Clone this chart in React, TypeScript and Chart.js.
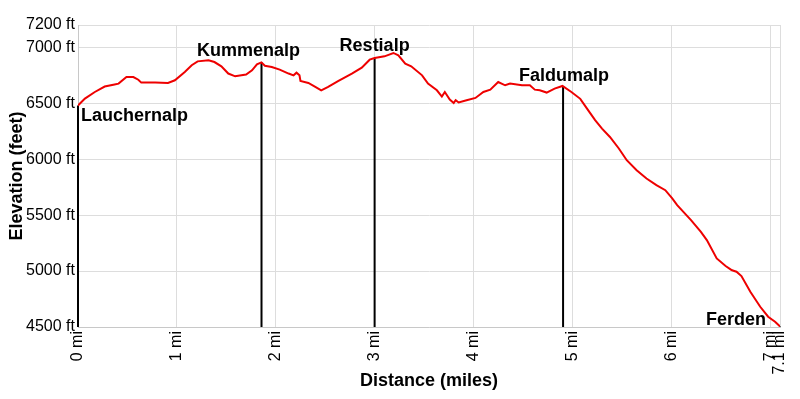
import React, { useEffect, useRef } from "react";
import { Chart, registerables } from "chart.js";

Chart.register(...registerables);

const distances = [
  0.0, 0.07, 0.17, 0.27, 0.37, 0.41, 0.49, 0.56, 0.61, 0.64, 0.78, 0.91, 0.98, 1.08, 1.15, 1.21, 1.32, 1.38,
  1.45, 1.52, 1.59, 1.7, 1.76, 1.81, 1.855, 1.89, 1.96, 2.04, 2.13, 2.18, 2.21, 2.24, 2.25, 2.33, 2.4, 2.46,
  2.53, 2.63, 2.77, 2.87, 2.95, 3.0, 3.1, 3.19, 3.24, 3.31, 3.37, 3.48, 3.54, 3.63, 3.68, 3.71, 3.76, 3.8,
  3.82, 3.85, 3.93, 4.02, 4.1, 4.17, 4.25, 4.32, 4.37, 4.49, 4.57, 4.62, 4.67, 4.74, 4.82, 4.9, 4.99, 5.08,
  5.15, 5.23, 5.3, 5.38, 5.47, 5.55, 5.65, 5.75, 5.85, 5.94, 6.01, 6.06, 6.2, 6.3, 6.36, 6.46, 6.55, 6.6,
  6.61, 6.63, 6.66, 6.71, 6.8, 6.9, 6.98, 7.05, 7.1,
];
const elevations = [
  6480, 6542, 6601, 6650, 6668, 6676, 6735, 6735, 6711, 6685, 6685, 6682, 6706, 6780, 6840, 6875, 6884, 6869,
  6831, 6766, 6741, 6757, 6795, 6849, 6866, 6835, 6825, 6801, 6766, 6750, 6774, 6750, 6699, 6682, 6646, 6616,
  6646, 6699, 6766, 6819, 6890, 6905, 6920, 6950, 6929, 6855, 6831, 6750, 6676, 6616, 6560, 6601, 6533, 6503,
  6527, 6507, 6527, 6548, 6601, 6622, 6690, 6661, 6676, 6661, 6661, 6622, 6616, 6596, 6631, 6655, 6601, 6540,
  6450, 6349, 6274, 6199, 6096, 5991, 5902, 5828, 5768, 5723, 5649, 5589, 5455, 5351, 5277, 5113, 5045, 5015,
  5009, 5003, 4994, 4955, 4815, 4681, 4592, 4547, 4505,
];

const waypointNames = ["Lauchernalp", "Kummenalp", "Restialp", "Faldumalp", "Ferden"];
const waypointDistances = [0, 1.856, 3.0, 4.906, 7.1];
const waypointElevations = [6480, 6866, 6905, 6655, 4505];

const yTicks = [4500, 5000, 5500, 6000, 6500, 7000, 7200];
const xTicks = [0, 1, 2, 3, 4, 5, 6, 7, 7.1];

// label styling: alignment and pixel offsets from the waypoint
const labelStyles = [
  { align: "left", dx: 3, dy: 15 },
  { align: "center", dx: -13, dy: -6 },
  { align: "center", dx: 0, dy: -7 },
  { align: "center", dx: 1, dy: -5 },
  { align: "right", dx: -14, dy: -1 },
];

const FONT = "Arial, 'Liberation Sans', sans-serif";

const waypointPlugin = {
  id: "waypoints",
  beforeDatasetsDraw(chart: any) {
    const { ctx, scales } = chart;
    const x = scales.x;
    const y = scales.y;
    ctx.save();
    ctx.strokeStyle = "#000";
    ctx.lineWidth = 2;
    waypointDistances.forEach((d, i) => {
      const px = x.getPixelForValue(d);
      ctx.beginPath();
      ctx.moveTo(px, y.getPixelForValue(waypointElevations[i]));
      ctx.lineTo(px, y.getPixelForValue(y.min));
      ctx.stroke();
    });
    ctx.restore();
  },
  afterDatasetsDraw(chart: any) {
    const { ctx, scales } = chart;
    const x = scales.x;
    const y = scales.y;
    ctx.save();
    ctx.fillStyle = "#000";
    ctx.font = `bold 18px ${FONT}`;
    ctx.textBaseline = "alphabetic";
    waypointNames.forEach((name, i) => {
      const s = labelStyles[i];
      const px = x.getPixelForValue(waypointDistances[i]);
      const py = y.getPixelForValue(waypointElevations[i]);
      ctx.textAlign = s.align;
      ctx.fillText(name, px + s.dx, py + s.dy);
    });
    ctx.restore();
  },
};

export default function App() {
  const ref = useRef<HTMLCanvasElement>(null);
  useEffect(() => {
    document.body.style.margin = "0";
    const chart = new Chart(ref.current!, {
      type: "line",
      data: {
        datasets: [
          {
            data: distances.map((d, i) => ({ x: d, y: elevations[i] })),
            borderColor: "#ee0000",
            borderWidth: 2,
            pointRadius: 0,
            tension: 0,
            fill: false,
          },
        ],
      },
      options: {
        animation: false,
        responsive: false,
        layout: { padding: { top: 25, right: 0, left: 0, bottom: 0 } },
        plugins: { legend: { display: false }, tooltip: { enabled: false } },
        scales: {
          x: {
            type: "linear",
            min: 0,
            max: 7.1,
            afterBuildTicks: (s: any) => {
              s.ticks = xTicks.map((v) => ({ value: v }));
            },
            afterFit: (s: any) => {
              s.height = 72;
              s.paddingRight = 20;
              s.paddingLeft = 0;
            },
            grid: { color: "#dddddd", drawTicks: false },
            border: { color: "#c8c8c8" },
            ticks: {
              autoSkip: false,
              maxRotation: 90,
              minRotation: 90,
              padding: 4,
              color: "#000",
              font: { family: FONT, size: 16 },
              callback: (v: any) => `${v} mi`,
            },
            title: {
              display: true,
              text: "Distance (miles)",
              color: "#000",
              font: { family: FONT, size: 18, weight: "bold" },
              padding: { top: 0, bottom: 7 },
            },
          },
          y: {
            type: "linear",
            min: 4500,
            max: 7200,
            afterBuildTicks: (s: any) => {
              s.ticks = yTicks.map((v) => ({ value: v }));
            },
            afterFit: (s: any) => {
              s.width = 78;
            },
            grid: { color: "#dddddd", drawTicks: false },
            border: { color: "#c8c8c8" },
            ticks: {
              padding: 3,
              color: "#000",
              font: { family: FONT, size: 16 },
              callback: (v: any) => `${v} ft`,
            },
            title: {
              display: true,
              text: "Elevation (feet)",
              color: "#000",
              font: { family: FONT, size: 18, weight: "bold" },
              padding: { top: 6, bottom: 0 },
            },
          },
        },
      },
      plugins: [waypointPlugin],
    });
    return () => chart.destroy();
  }, []);
  return (
    <div style={{ position: "absolute", left: 0, top: 0, width: 800, height: 399 }}>
      <canvas ref={ref} width={800} height={399} />
    </div>
  );
}
